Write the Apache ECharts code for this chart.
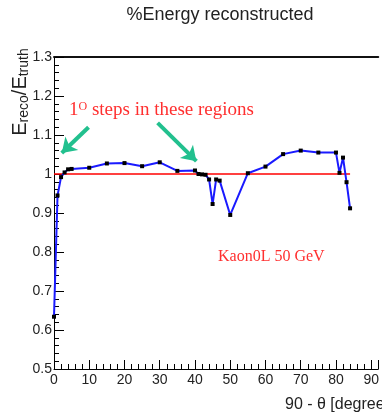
<!DOCTYPE html>
<html>
<head>
<meta charset="utf-8">
<script src="https://cdn.jsdelivr.net/npm/echarts@6/dist/echarts.min.js"></script>
<style>
  html, body { margin: 0; padding: 0; background: #fff; }
  #chart { width: 382px; height: 416px; }
</style>
</head>
<body>
<div id="chart"></div>
<script>
// Reconstructed energy fraction vs. polar angle (Kaon0L, 50 GeV)
const angles = [0, 1, 2, 3, 4, 5, 10, 15, 20, 25, 30, 35, 40, 41, 42, 43, 44, 45, 46, 47,
                50, 55, 60, 65, 70, 75, 80, 81, 82, 83, 84];
const ratio = [0.634, 0.945, 0.992, 1.004, 1.012, 1.013, 1.016, 1.027, 1.028, 1.020, 1.030,
               1.008, 1.009, 1.000, 0.999, 0.998, 0.986, 0.923, 0.986, 0.983,
               0.895, 1.002, 1.019, 1.051, 1.060, 1.055, 1.055, 1.003, 1.042, 0.979, 0.912];
// unity reference line
const unityX = [0, 84];
const unityY = [1, 1];
// annotation arrows: [tailX, tailY, headX, headY]
const arrowA = [9.8, 1.120, 2.2, 1.054];
const arrowB = [29.4, 1.131, 40.4, 1.033];
const yTicks = ['0.5', '0.6', '0.7', '0.8', '0.9', '1', '1.1', '1.2', '1.3'];

const chart = echarts.init(document.getElementById('chart'));
const sans = '"Liberation Sans", Arial, sans-serif';
const serif = '"Liberation Serif", "Times New Roman", serif';

const option = {
  animation: false,
  backgroundColor: '#fff',
  grid: { left: 54, right: 0, top: 57, bottom: 47, containLabel: false },
  xAxis: [{
    type: 'value', min: 0, max: 92, interval: 10, position: 'bottom',
    axisLine: { show: true, onZero: false, lineStyle: { color: '#000', width: 1 } },
    axisTick: { show: true, inside: true, length: 9, lineStyle: { color: '#000' } },
    minorTick: { show: true, splitNumber: 5, length: 5, lineStyle: { color: '#000' } },
    axisLabel: { margin: 4, color: '#222', fontFamily: sans, fontSize: 14, showMaxLabel: false },
    splitLine: { show: false }
  }, {
    type: 'value', min: 0, max: 92, position: 'top',
    axisLine: { show: true, onZero: false, lineStyle: { color: '#111', width: 2 } },
    axisTick: { show: false }, axisLabel: { show: false }, splitLine: { show: false }
  }],
  yAxis: {
    type: 'value', min: 0.5, max: 1.3, interval: 0.1,
    axisLine: { show: true, onZero: false, lineStyle: { color: '#000', width: 1 } },
    axisTick: { show: true, inside: true, length: 10, lineStyle: { color: '#000' } },
    minorTick: { show: true, splitNumber: 5, length: 5, lineStyle: { color: '#000' } },
    axisLabel: {
      margin: 2, color: '#222', fontFamily: sans, fontSize: 14,
      formatter: v => yTicks[Math.round((v - 0.5) * 10)]
    },
    splitLine: { show: false }
  },
  series: [{
    type: 'line',
    data: unityX.map((x, i) => [x, unityY[i]]),
    symbol: 'none',
    lineStyle: { color: '#ff0000', width: 1.5 },
    silent: true, z: 2
  }, {
    type: 'line',
    data: angles.map((a, i) => [a, ratio[i]]),
    symbol: 'rect', symbolSize: 4,
    itemStyle: { color: '#000' },
    lineStyle: { color: '#1a1aff', width: 2 },
    silent: true, z: 3,
    markLine: {
      silent: true,
      symbol: ['none', 'arrow'],
      symbolSize: [14, 14],
      label: { show: false },
      lineStyle: { color: '#22c08e', width: 4, type: 'solid' },
      data: [
        [{ coord: [arrowA[0], arrowA[1]] }, { coord: [arrowA[2], arrowA[3]] }],
        [{ coord: [arrowB[0], arrowB[1]] }, { coord: [arrowB[2], arrowB[3]] }]
      ]
    }
  }],
  graphic: [{
    type: 'text', x: 220, y: 15,
    style: { text: '%Energy reconstructed', fontFamily: sans, fontSize: 18,
             fill: '#222', align: 'center', verticalAlign: 'middle' }
  }, {
    type: 'text', x: 20, y: 92, rotation: Math.PI / 2,
    style: {
      text: '{m|E}{s|reco}{m|/E}{s|truth}',
      align: 'center', verticalAlign: 'middle', fill: '#222',
      rich: {
        m: { fontFamily: sans, fontSize: 20, fill: '#222', verticalAlign: 'middle' },
        s: { fontFamily: sans, fontSize: 14, fill: '#222', verticalAlign: 'middle', padding: [8, 0, 0, 0] }
      }
    }
  }, {
    type: 'text', x: 285, y: 405,
    style: { text: '90 - θ [degrees]', fontFamily: sans, fontSize: 16,
             fill: '#222', align: 'left', verticalAlign: 'middle' }
  }, {
    type: 'text', x: 69, y: 110,
    style: {
      text: '{n|1}{sup|O}{n| steps in these regions}',
      align: 'left', verticalAlign: 'middle',
      rich: {
        n: { fontFamily: serif, fontSize: 19, fill: '#ff3030', verticalAlign: 'middle' },
        sup: { fontFamily: serif, fontSize: 12, fill: '#ff3030', verticalAlign: 'top' }
      }
    }
  }, {
    type: 'text', x: 218, y: 257,
    style: { text: 'Kaon0L 50 GeV', fontFamily: serif, fontSize: 16,
             fill: '#ff3030', align: 'left', verticalAlign: 'middle' }
  }]
};
chart.setOption(option);
</script>
</body>
</html>
